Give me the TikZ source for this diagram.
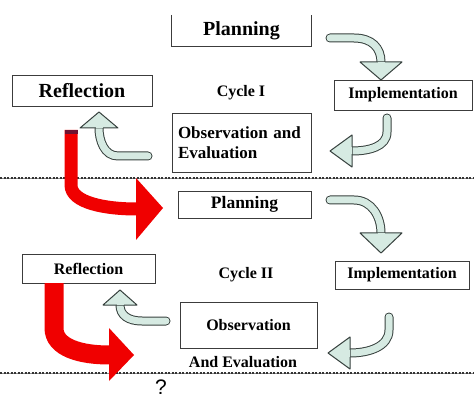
\documentclass[tikz,border=0pt]{standalone}
\usepackage{fontspec}
\setmainfont{Liberation Serif}
\setsansfont{Liberation Sans}

\definecolor{boxline}{RGB}{60,60,60}
\definecolor{mintfill}{RGB}{214,234,226}
\definecolor{mintline}{RGB}{55,65,62}
\definecolor{cyclered}{RGB}{240,0,0}
\definecolor{capred}{RGB}{110,20,50}

\tikzset{
  box/.style={draw=boxline, line width=0.8pt, inner sep=0pt, font=\bfseries\fontsize{16}{18}\selectfont},
  plaintext/.style={inner sep=0pt, font=\bfseries\fontsize{16}{18}\selectfont},
  mintshaft/.style={draw=mintline, line width=1pt, double=mintfill, double distance=7pt, line cap=round},
  minthead/.style={draw=mintline, line width=1pt, fill=mintfill, line join=round},
  mintjoin/.style={draw=mintfill, line width=7pt},
  redshaft/.style={draw=cyclered, line width=13pt},
  redhead/.style={fill=cyclered},
  sepgray/.style={draw=black!45, line width=0.7pt, yshift=1.5pt},
  sepdots/.style={draw=black!80, line width=1.2pt, dash pattern=on 2pt off 1.5pt}
}

\begin{document}
\begin{tikzpicture}[x=1pt,y=-1pt]
\useasboundingbox (0,0) rectangle (474,398);

\coordinate (sepIw) at (0,178);   \coordinate (sepIe) at (474,178);
\coordinate (sepIIw) at (0,373);  \coordinate (sepIIe) at (474,373);
\draw[sepgray] (sepIw) -- (sepIe);
\draw[sepdots] (sepIw) -- (sepIe);
\draw[sepgray] (sepIIw) -- (sepIIe);
\draw[sepdots] (sepIIw) -- (sepIIe);

% cycle I
\node[plaintext, minimum width=139pt, minimum height=31pt, font=\bfseries\fontsize{20}{22}\selectfont] (planI) at (241.5,30.5) {Planning};
\draw[boxline, line width=0.8pt] (planI.north west) |- (planI.south east) -- (planI.north east);
\node[box, minimum width=138pt, minimum height=30pt] (implI) at (403,95) {Implementation};
\node[box, minimum width=140pt, minimum height=31pt, font=\bfseries\fontsize{20}{22}\selectfont] (reflI) at (82,90.5) {Reflection};
\node[plaintext] (cycI) at (241,93) {Cycle I};
\node[box, minimum width=139pt, minimum height=59pt, text width=127pt, align=left, font=\bfseries\fontsize{17}{20}\selectfont] (obsI) at (241.5,142.5) {Observation and\\Evaluation};

% cycle II
\node[box, minimum width=133pt, minimum height=27pt, font=\bfseries\fontsize{17.5}{20}\selectfont] (planII) at (244.5,204.5) {Planning};
\node[box, minimum width=134pt, minimum height=28pt] (implII) at (402,275) {Implementation};
\node[box, minimum width=133pt, minimum height=29pt] (reflII) at (88.5,268.5) {Reflection};
\node[plaintext] (cycII) at (246,275) {Cycle II};
\node[box, minimum width=137pt, minimum height=46pt] (obsII) at (248.5,325) {Observation};
\node[plaintext] (evalII) at (243,362) {And Evaluation};
\node[inner sep=0pt, font=\sffamily\fontsize{21}{22}\selectfont] (next) at (161,387) {?};

% mint arrows
\coordinate (aIs) at (330,38);   \coordinate (aIe) at (381,62);
\draw[mintshaft] (aIs) -- ++(24,0) .. controls +(18,0) and +(0,-14) .. (aIe);
\filldraw[minthead] (aIe) ++(-21,0) -- ++(42,0) -- ++(-21,18) -- cycle;
\draw[mintjoin] (aIe) -- ++(0,1.5);

\coordinate (aIIs) at (387,118); \coordinate (aIIe) at (352,151);
\draw[mintshaft] (aIIs) -- ++(0,14) .. controls +(0,15) and +(16,0) .. (aIIe);
\filldraw[minthead] (aIIe) ++(0,-16) -- ++(0,32) -- ++(-22,-16) -- cycle;
\draw[mintjoin] (aIIe) -- ++(-1.5,0);

\coordinate (aIIIs) at (148,156); \coordinate (aIIIe) at (99,128);
\draw[mintshaft] (aIIIs) -- ++(-30,0) .. controls +(-14,0) and +(0,12) .. (aIIIe);
\filldraw[minthead] (aIIIe) ++(-19,0) -- ++(38,0) -- ++(-19,-16) -- cycle;
\draw[mintjoin] (aIIIe) -- ++(0,-1.5);

\coordinate (aIVs) at (330,200); \coordinate (aIVe) at (381,233);
\draw[mintshaft] (aIVs) -- ++(24,0) .. controls +(18,0) and +(0,-16) .. (aIVe);
\filldraw[minthead] (aIVe) ++(-21,0) -- ++(42,0) -- ++(-21,20) -- cycle;
\draw[mintjoin] (aIVe) -- ++(0,1.5);

\coordinate (aVs) at (389,317);  \coordinate (aVe) at (350,353);
\draw[mintshaft] (aVs) -- ++(0,13) .. controls +(0,17) and +(18,0) .. (aVe);
\filldraw[minthead] (aVe) ++(0,-16) -- ++(0,32) -- ++(-22,-16) -- cycle;
\draw[mintjoin] (aVe) -- ++(-1.5,0);

\coordinate (aVIs) at (166,321); \coordinate (aVIe) at (120,305);
\draw[mintshaft] (aVIs) -- ++(-24,0) .. controls +(-14,0) and +(0,10) .. (aVIe);
\filldraw[minthead] (aVIe) ++(-17,0) -- ++(34,0) -- ++(-17,-15) -- cycle;
\draw[mintjoin] (aVIe) -- ++(0,-1.5);

% red arrows
\coordinate (rIs) at (71,130);   \coordinate (rIe) at (136,209);
\draw[redshaft] (rIs) -- ++(0,55) .. controls +(0,18) and +(-30,0) .. (rIe);
\fill[redhead] (rIe) ++(0,-31) -- ++(27,30) -- ++(-27,32) -- cycle;
\draw[capred, line width=13pt] (rIs) -- ++(0,4);

\coordinate (rIIs) at (54,283);  \coordinate (rIIe) at (109,355);
\draw[redshaft, line width=19pt] (rIIs) -- ++(0,45) .. controls +(0,20) and +(-28,0) .. (rIIe);
\fill[redhead] (rIIe) ++(0,-27) -- ++(25,27) -- ++(-25,26) -- cycle;
\end{tikzpicture}
\end{document}
